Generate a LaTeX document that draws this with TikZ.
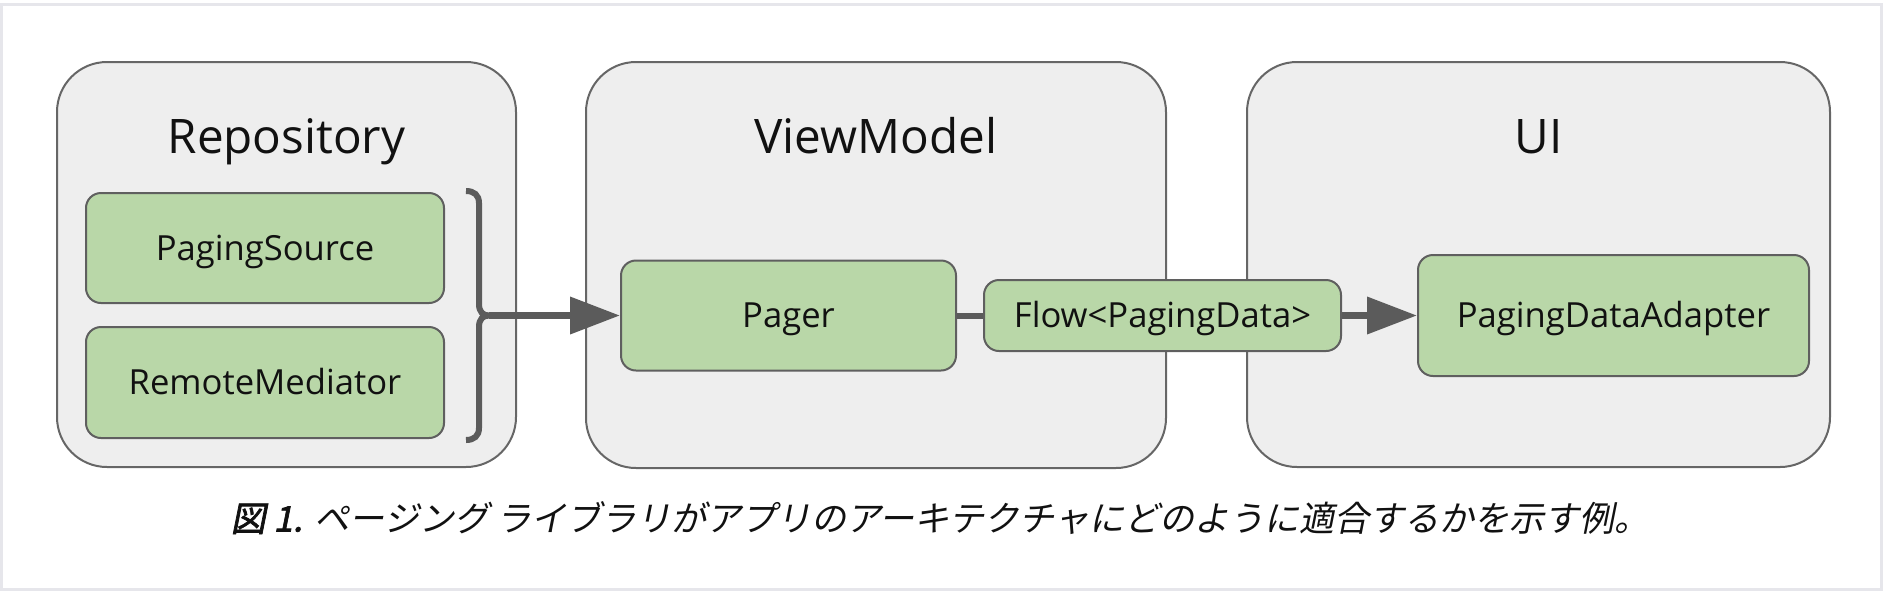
\documentclass[tikz,border=0pt]{standalone}
\usepackage{fontspec}
\setmainfont{Open Sans}
\newfontfamily\cjk[FakeSlant=0.2]{Noto Sans CJK JP}
\newfontfamily\cjkb[FakeSlant=0.2,FakeBold=2]{Noto Sans CJK JP}
\usetikzlibrary{arrows.meta}
\definecolor{contfill}{HTML}{EEEEEE}
\definecolor{contdraw}{HTML}{666666}
\definecolor{boxfill}{HTML}{B9D7A8}
\definecolor{boxdraw}{HTML}{5F5F5F}
\definecolor{arrcol}{HTML}{5B5B5B}
\definecolor{framecol}{HTML}{E6E6EB}
\definecolor{txt}{HTML}{111111}
\tikzset{
  container/.style={draw=contdraw, fill=contfill, line width=1pt, rounded corners=25pt, inner sep=0pt},
  title/.style={anchor=base, font=\fontsize{23.8}{26}\selectfont, text=txt, inner sep=0pt},
  gbox/.style={draw=boxdraw, fill=boxfill, line width=1pt, rounded corners=7.5pt, inner sep=0pt, font=\fontsize{17.3}{20}\selectfont, text=txt, text height=12pt, text depth=0pt},
  conn/.style={draw=arrcol, line width=3pt},
  arr/.style={draw=arrcol, line width=3.5pt, -{Triangle[length=25pt,width=18pt]}},
  bracestyle/.style={draw=arrcol, line width=3pt}
}
\begin{document}
\begin{tikzpicture}[x=0.5pt,y=-0.5pt]
\useasboundingbox (0,0) rectangle (1886,596);
\draw[framecol, line width=1.5pt] (1,4) rectangle (1881,589);

% containers
\node[container, minimum width=229.5pt, minimum height=202.5pt] (repo) at (286.5,264.5) {};
\node[container, minimum width=290pt, minimum height=203pt] (vm) at (876,265) {};
\node[container, minimum width=291.5pt, minimum height=202.5pt] (ui) at (1538.5,264.5) {};

\node[title] (repot) at (286.5,153) {Repository};
\node[title] (vmt) at (876,153) {ViewModel};
\node[title] (uit) at (1538.5,153) {UI};

% boxes
\node[gbox, minimum width=179pt, minimum height=55pt] (ps) at (265,248) {PagingSource};
\node[gbox, minimum width=179pt, minimum height=55.5pt] (rm) at (265,382.5) {RemoteMediator};
\node[gbox, minimum width=167.5pt, minimum height=55pt] (pager) at (788.5,315.5) {Pager};
\node[gbox, minimum width=178.5pt, minimum height=35.5pt] (flow) at (1162.5,315.5) {Flow<PagingData>};
\node[gbox, minimum width=195.5pt, minimum height=60.5pt] (pda) at (1613.5,315.5) {PagingDataAdapter};

% brace
\coordinate (brk) at (489,315.5);
\draw[bracestyle] (466,191) .. controls (474,191) and (479,195) .. (479,203) -- (479,304)
  .. controls (479,312) and (483,315.5) .. (brk)
  .. controls (483,315.5) and (479,319) .. (479,327) -- (479,428)
  .. controls (479,436) and (474,440) .. (466,440);

% connectors
\draw[arr] (brk) -- (pager);
\draw[conn] (pager) -- (flow);
\draw[arr] (flow) -- (pda);

% caption
\node[anchor=center, inner sep=0pt, text=txt, font=\fontsize{17.5}{20}\selectfont] (cap) at (940,518)
  {{\cjkb 図 1.} \cjk ページング ライブラリがアプリのアーキテクチャにどのように適合するかを示す例。};
\end{tikzpicture}
\end{document}
